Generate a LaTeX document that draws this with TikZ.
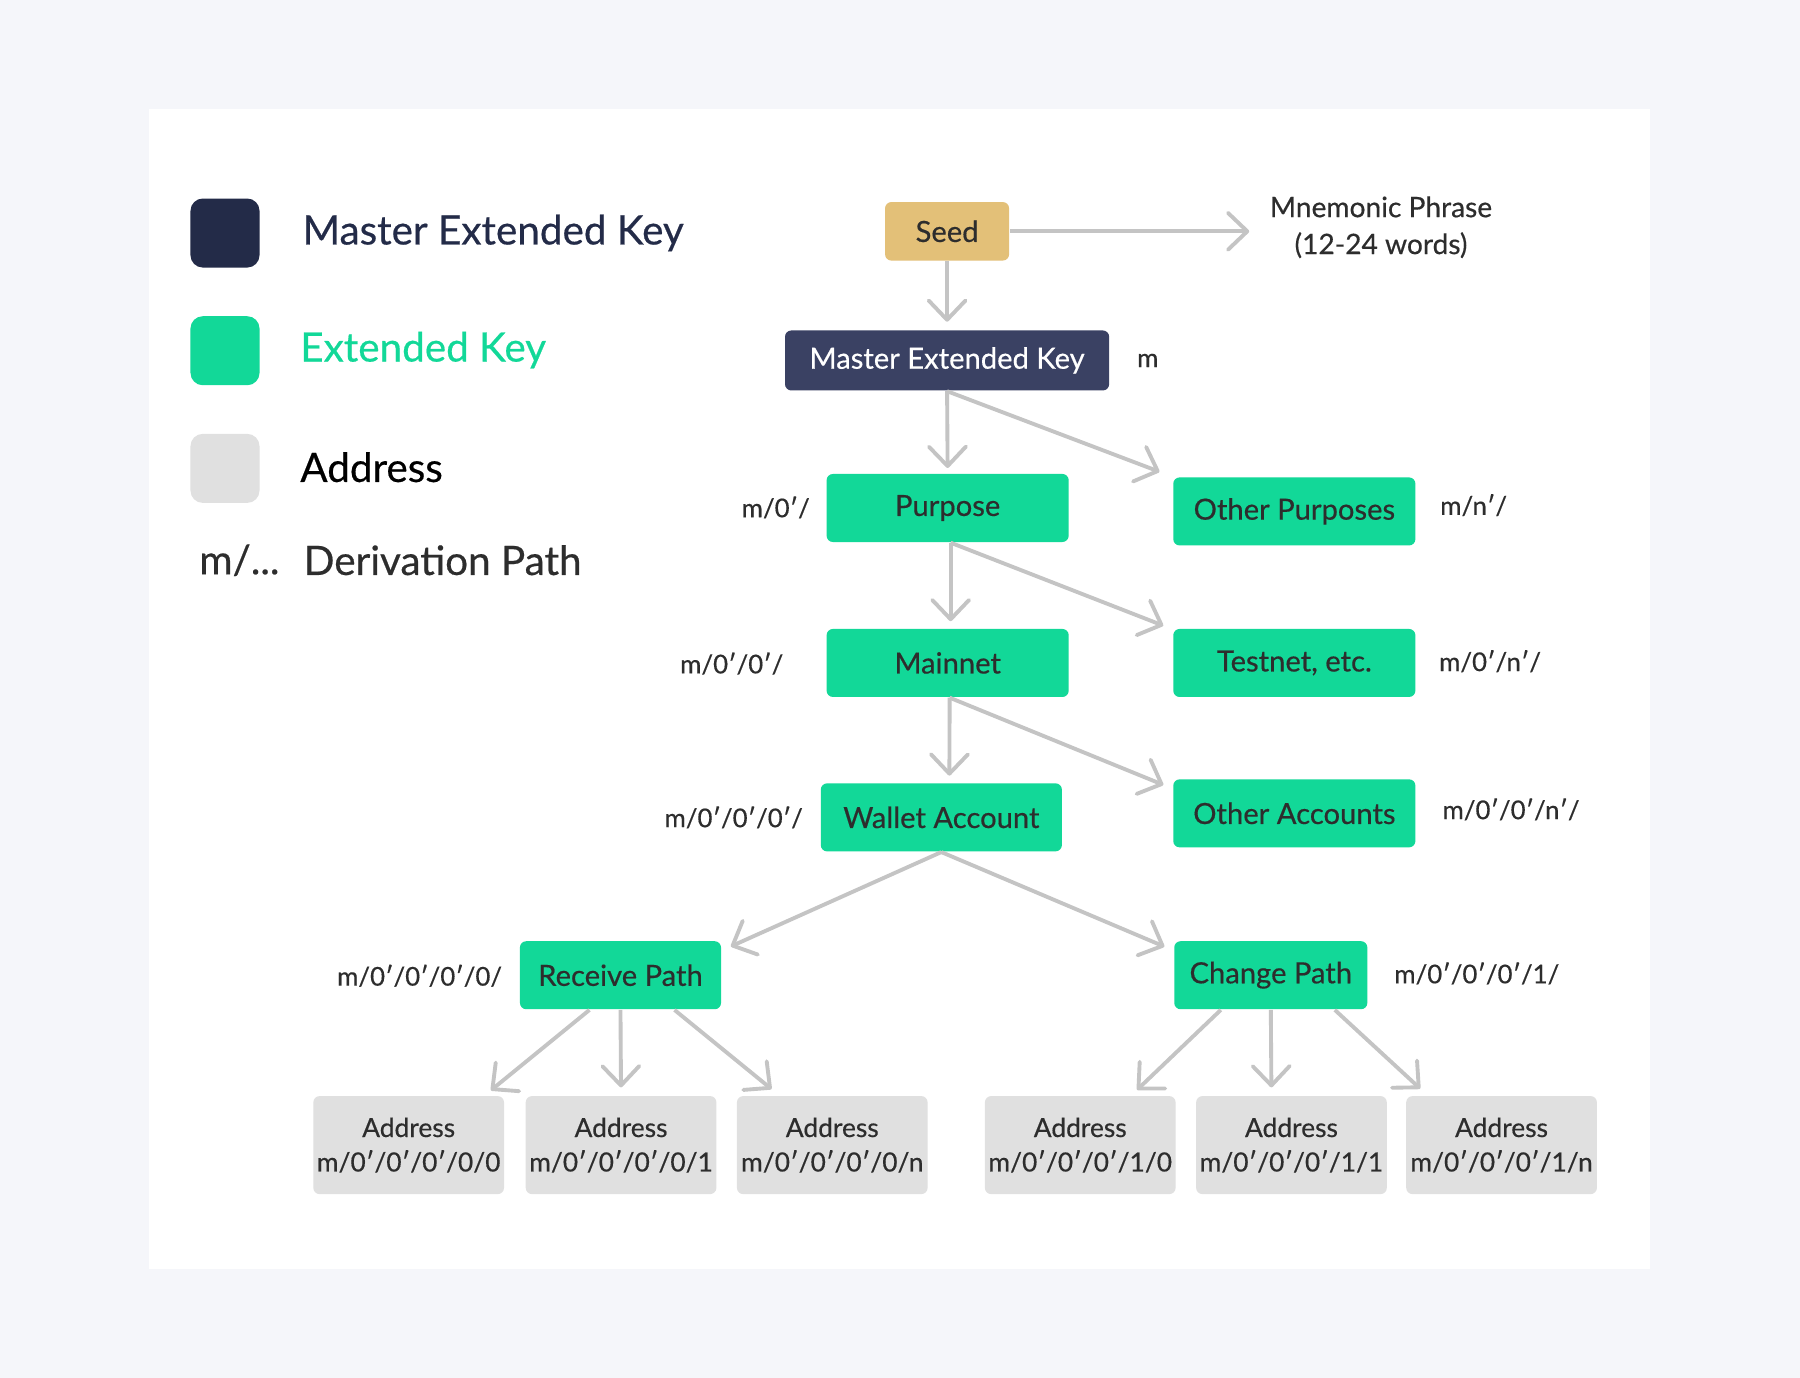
\documentclass[tikz,border=0pt]{standalone}
\usepackage{fontspec}
\setmainfont{Lato}[FakeBold=0.45]
\usetikzlibrary{
  arrows.meta,
  positioning
}
\definecolor{pagebg}{RGB}{245,246,250}
\definecolor{keygreen}{RGB}{18,216,152}
\definecolor{mastnavy}{RGB}{58,65,99}
\definecolor{legnavy}{RGB}{35,43,72}
\definecolor{seedgold}{RGB}{227,192,120}
\definecolor{addrgray}{RGB}{224,224,224}
\definecolor{linkgray}{RGB}{196,196,196}
\definecolor{inktext}{RGB}{45,45,45}

\tikzset{
  box/.style={rounded corners=1.8pt, inner sep=0pt, text=inktext, font=\fontsize{8.3}{10}\selectfont},
  keybox/.style={box, fill=keygreen, minimum width=2.42cm, minimum height=0.68cm},
  addrbox/.style={box, fill=addrgray, minimum width=1.906cm, minimum height=0.98cm, align=center, font=\fontsize{7.5}{9.8}\selectfont},
  pathlbl/.style={inner sep=0pt, text=inktext, font=\fontsize{7.35}{10.5}\selectfont},
  legbox/.style={rounded corners=3.5pt, minimum size=0.69cm, inner sep=0pt},
  legtxt/.style={anchor=west, inner sep=0pt, font=\fontsize{11.5}{14}\selectfont},
  link/.style={draw=linkgray, line width=1.1pt, -{Straight Barb[length=5.5pt,width=10.5pt,round]}}
}

\begin{document}
\begin{tikzpicture}[x=0.01148cm, y=-0.01148cm]
  % Page and panel
  \fill[pagebg] (0,0) rectangle (1568,1200);
  \fill[white] (130,95) rectangle (1437,1105);
  % Legend
  \node[legbox, fill=legnavy] (lg-master) at (196,203) {};
  \node[legbox, fill=keygreen] (lg-key) at (196,305.5) {};
  \node[legbox, fill=addrgray] (lg-addr) at (196,408) {};
  \node[legtxt, text=legnavy] (lt-master) at (263,203) {Master Extended Key};
  \node[legtxt, text=keygreen] (lt-key) at (261,305) {Extended Key};
  \node[legtxt, text=black] (lt-addr) at (261,407) {Address};
  \node[legtxt, text=inktext] (lt-mpath) at (173,488) {m/...};
  \node[legtxt, text=inktext] (lt-deriv) at (264,488) {Derivation Path};
  % Keys
  \node[box, fill=seedgold, minimum width=1.24cm, minimum height=0.585cm] (seed) at (825,201.5) {Seed};
  \node[pathlbl, align=center, font=\fontsize{8}{10.5}\selectfont] (mnem) at (1203,198) {Mnemonic Phrase\\(12-24 words)};
  \node[box, fill=mastnavy, text=white, minimum width=3.24cm, minimum height=0.6cm] (master) at (825,314) {Master Extended Key};
  \node[keybox] (purpose) at (825.5,442.5) {Purpose};
  \node[keybox] (otherp) at (1127.5,445.5) {Other Purposes};
  \node[keybox] (mainnet) at (825.5,577.5) {Mainnet};
  \node[keybox] (testnet) at (1127.5,577.5) {Testnet, etc.};
  \node[keybox, minimum width=2.41cm] (wallet) at (820,712) {Wallet Account};
  \node[keybox] (othera) at (1127.5,708.5) {Other Accounts};
  \node[keybox, minimum width=2.01cm] (recv) at (540.5,849.5) {Receive Path};
  \node[keybox, minimum width=1.93cm] (change) at (1107,849.5) {Change Path};
  % Addresses
  \node[addrbox] (a1) at (356,997.5) {Address\\m/0′/0′/0′/0/0};
  \node[addrbox] (a2) at (541,997.5) {Address\\m/0′/0′/0′/0/1};
  \node[addrbox] (a3) at (725,997.5) {Address\\m/0′/0′/0′/0/n};
  \node[addrbox] (a4) at (941,997.5) {Address\\m/0′/0′/0′/1/0};
  \node[addrbox] (a5) at (1125,997.5) {Address\\m/0′/0′/0′/1/1};
  \node[addrbox] (a6) at (1308,997.5) {Address\\m/0′/0′/0′/1/n};
  % Derivation paths
  \node[pathlbl, anchor=west] (p-master) at (990,314) {m};
  \node[pathlbl, anchor=east] (p-purpose) at (706,442) {m/0′/};
  \node[pathlbl, anchor=west] (p-otherp) at (1254,440) {m/n′/};
  \node[pathlbl, anchor=east] (p-mainnet) at (683,578) {m/0′/0′/};
  \node[pathlbl, anchor=west] (p-testnet) at (1253,576) {m/0′/n′/};
  \node[pathlbl, anchor=east] (p-wallet) at (700,712) {m/0′/0′/0′/};
  \node[pathlbl, anchor=west] (p-othera) at (1256,705) {m/0′/0′/n′/};
  \node[pathlbl, anchor=east] (p-recv) at (438,850) {m/0′/0′/0′/0/};
  \node[pathlbl, anchor=west] (p-change) at (1214,848) {m/0′/0′/0′/1/};
  % Arrows
  \draw[link, shorten >=0.2cm] (seed.east) -- (seed.east -| mnem.west);
  \draw[link, shorten >=0.08cm] (seed) -- (master);
  \draw[link, shorten >=1.5pt] (master.south) -- (purpose.north);
  \draw[link, shorten >=0.14cm] (master.south) -- (otherp.north west);
  \draw[link, shorten >=2pt] ([xshift=0.03cm]purpose.south) -- ([xshift=0.03cm]mainnet.north);
  \draw[link, shorten >=0.1cm] ([xshift=0.03cm]purpose.south) -- ([yshift=-0.01cm]testnet.north west);
  \draw[link, shorten >=2pt] ([xshift=0.02cm]mainnet.south) -- ([xshift=0.08cm]wallet.north);
  \draw[link, shorten >=0.1cm] ([xshift=0.02cm]mainnet.south) -- ([yshift=-0.1cm]othera.north west);
  \draw[link, shorten >=0.1cm] (wallet.south) -- ([yshift=-0.1cm]recv.north east);
  \draw[link, shorten >=0.1cm] (wallet.south) -- ([yshift=-0.1cm]change.north west);
  \draw[link, shorten >=0.08cm] ([xshift=-0.31cm]recv.south) -- ([xshift=-0.2cm]a1.north east);
  \draw[link, shorten >=0.08cm] (recv.south) -- (a2.north);
  \draw[link, shorten >=0.1cm] ([xshift=0.54cm]recv.south) -- ([xshift=0.43cm]a3.north west);
  \draw[link, shorten >=0.08cm] ([xshift=-0.5cm]change.south) -- ([xshift=-0.45cm]a4.north east);
  \draw[link, shorten >=0.08cm] (change.south) -- ([xshift=-0.2cm]a5.north);
  \draw[link, shorten >=0.1cm] ([xshift=0.64cm]change.south) -- ([xshift=0.22cm]a6.north west);
\end{tikzpicture}
\end{document}
